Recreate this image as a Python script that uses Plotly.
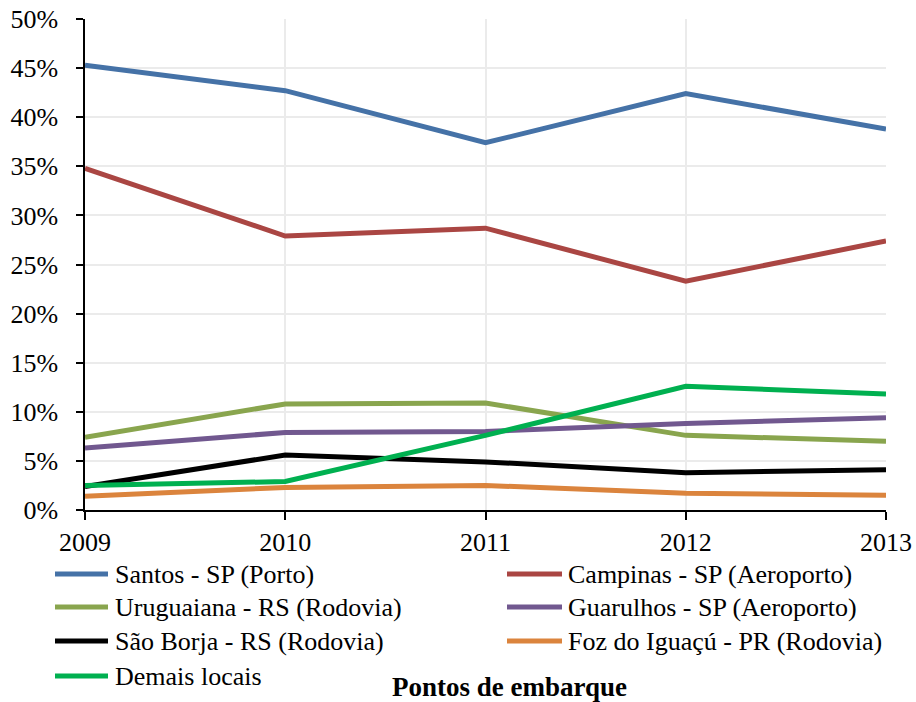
import plotly.graph_objects as go

years = [2009, 2010, 2011, 2012, 2013]
series_names = [
    "Santos - SP (Porto)",
    "Campinas - SP (Aeroporto)",
    "Uruguaiana - RS (Rodovia)",
    "Guarulhos - SP (Aeroporto)",
    "São Borja - RS (Rodovia)",
    "Foz do Iguaçú - PR (Rodovia)",
    "Demais locais",
]
santos = [45.3, 42.7, 37.4, 42.4, 38.8]
campinas = [34.8, 27.9, 28.7, 23.3, 27.4]
uruguaiana = [7.4, 10.8, 10.9, 7.6, 7.0]
guarulhos = [6.3, 7.9, 8.0, 8.8, 9.4]
sao_borja = [2.4, 5.6, 4.9, 3.8, 4.1]
foz = [1.4, 2.3, 2.5, 1.7, 1.5]
demais = [2.5, 2.9, 7.6, 12.6, 11.8]
series_values = [santos, campinas, uruguaiana, guarulhos, sao_borja, foz, demais]
colors = ["#4572A7", "#AA4643", "#89A54E", "#71588F", "#000000", "#DB843D", "#00B050"]
y_ticks = [0, 5, 10, 15, 20, 25, 30, 35, 40, 45, 50]
y_tick_labels = [f"{v}%" for v in y_ticks]
x_title = "Pontos de embarque"

FONT = "Liberation Serif"
W, H = 916, 702
L, R, T, B = 85, 30, 19, 192
PW, PH = W - L - R, H - T - B


def px(x):
    return (x - L) / PW


def py(y):
    return (H - B - y) / PH


fig = go.Figure()
for name, vals, col in zip(series_names, series_values, colors):
    fig.add_trace(go.Scatter(
        x=years, y=vals, mode="lines", name=name,
        line=dict(color=col, width=5), showlegend=False,
    ))

# manual legend (two columns)
col_x = [(55, 108, 113), (507, 562, 566)]
row_y = [574, 607, 641, 676]
for i, (name, col) in enumerate(zip(series_names, colors)):
    c = i % 2
    r = i // 2
    x0, x1, xt = col_x[c]
    y = row_y[r]
    fig.add_shape(type="line", xref="paper", yref="paper",
                  x0=px(x0), x1=px(x1), y0=py(y), y1=py(y),
                  line=dict(color=col, width=5))
    fig.add_annotation(xref="paper", yref="paper", x=px(xt), y=py(y),
                       text=name, showarrow=False, xanchor="left", yanchor="middle",
                       font=dict(family=FONT, size=26, color="black"))

fig.add_annotation(xref="paper", yref="paper", x=px(510), y=py(687),
                   text=f"<b>{x_title}</b>", showarrow=False,
                   xanchor="center", yanchor="middle",
                   font=dict(family=FONT, size=27, color="black"))

fig.update_layout(
    width=W, height=H,
    margin=dict(l=L, r=R, t=T, b=B, autoexpand=False),
    paper_bgcolor="white", plot_bgcolor="white",
    showlegend=False,
)
fig.update_xaxes(
    range=[2009, 2013], tickvals=years, ticktext=[str(y) for y in years],
    showgrid=True, gridcolor="#EBEBEB", gridwidth=1.5,
    showline=True, linecolor="black", linewidth=1.5,
    ticks="outside", ticklen=8, tickcolor="black", tickwidth=1.5,
    tickfont=dict(family=FONT, size=26, color="black"), zeroline=False,
)
fig.update_yaxes(
    range=[0, 50], tickvals=y_ticks, ticktext=y_tick_labels,
    showgrid=True, gridcolor="#EBEBEB", gridwidth=1.5,
    showline=True, linecolor="black", linewidth=1.5,
    ticks="outside", ticklen=7, tickcolor="black", tickwidth=1.5,
    ticklabelstandoff=13,
    tickfont=dict(family=FONT, size=26, color="black"), zeroline=False,
)

fig.write_html("out.html")
